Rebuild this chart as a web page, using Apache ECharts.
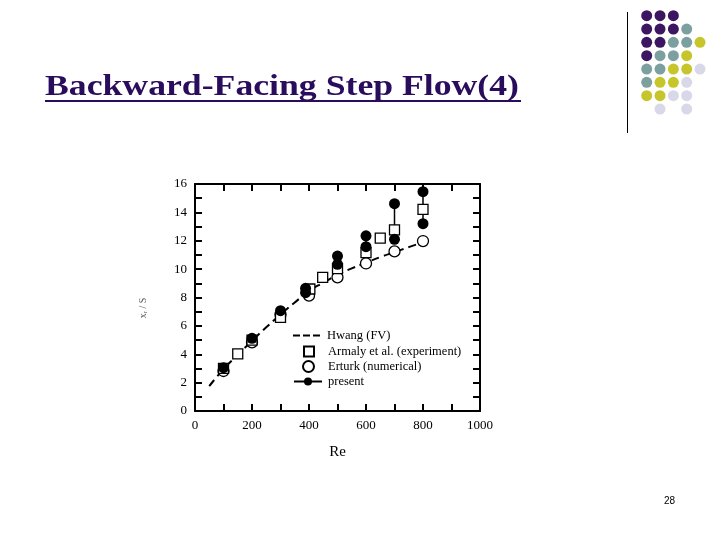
<!DOCTYPE html>
<html><head><meta charset="utf-8">
<script src="https://cdn.jsdelivr.net/npm/echarts@6/dist/echarts.min.js"></script>
<style>html,body{margin:0;padding:0;background:#fff}#c{width:720px;height:540px}</style>
</head><body><div id="c"></div>
<script>
var titleText = 'Backward-Facing Step Flow(4)';
var xTicks = [0, 200, 400, 600, 800, 1000];
var yTicks = [0, 2, 4, 6, 8, 10, 12, 14, 16];
var hwangRe = [50, 100, 150, 200, 250, 300, 350, 400, 450, 500, 550, 600, 650, 700, 750, 800];
var hwangXr = [1.75, 2.95, 3.95, 4.95, 5.9, 6.8, 7.65, 8.45, 9.05, 9.6, 10.05, 10.45, 10.85, 11.2, 11.55, 11.9];
var armalyRe = [100, 150, 200, 300, 403, 448, 500, 600, 650, 700, 800];
var armalyXr = [3.0, 4.02, 5.0, 6.6, 8.6, 9.42, 10.03, 11.16, 12.19, 12.76, 14.21];
var erturkRe = [100, 200, 300, 400, 500, 600, 700, 800];
var erturkXr = [2.82, 4.84, 6.8, 8.13, 9.42, 10.4, 11.25, 11.98];
var presentRe = [100, 200, 300, 388, 500, 600, 700, 800];
var presentHigh = [3.05, 5.12, 7.07, 8.65, 10.92, 12.35, 14.61, 15.46];
var presentLow = [3.05, 5.12, 7.07, 8.34, 10.34, 11.58, 12.1, 13.2];
var legendNames = ['Hwang (FV)', 'Armaly et al. (experiment)', 'Erturk (numerical)', 'present'];
var dotColors = {p:'#3c1661', t:'#7c9fa0', y:'#c6c62c', l:'#d8d8e8'};
var dotRows = ['ppp', 'pppt', 'pptty', 'ptty', 'ttyyl', 'tyyl', 'yyll', ' l l'];

function zip(a, b) { return a.map(function (v, i) { return [v, b[i]]; }); }
var presentPts = [];
var presentSeg = [];
presentRe.forEach(function (r, i) {
  presentPts.push([r, presentHigh[i]]);
  if (presentLow[i] !== presentHigh[i]) presentPts.push([r, presentLow[i]]);
  presentSeg.push([r, presentHigh[i]], [r, presentLow[i]], [r, null]);
});

var serif = '"Liberation Serif", "DejaVu Serif", serif';
var graphics = [
  {type:'text', x:45, y:72, scaleX:1.19, style:{text:titleText, font:'bold 30px ' + serif, fill:'#2a0c5c', verticalAlign:'top'}},
  {type:'rect', shape:{x:45, y:100, width:476, height:2}, style:{fill:'#2a0c5c'}},
  {type:'line', shape:{x1:627.5, y1:12, x2:627.5, y2:133}, style:{stroke:'#000', lineWidth:1}},
  {type:'text', left:664, top:496, style:{text:'28', font:'10px "Liberation Sans", Arial, sans-serif', fill:'#000'}},
  {type:'text', x:143, y:308, rotation:Math.PI/2, style:{text:'xᵣ / S', font:'10px ' + serif, fill:'#555', align:'center', verticalAlign:'middle'}}
];
dotRows.forEach(function (row, r) {
  for (var c = 0; c < row.length; c++) {
    var k = row[c];
    if (k === ' ') continue;
    graphics.push({type:'circle', shape:{cx:646.7 + c * 13.33, cy:15.7 + r * 13.33, r:5.5}, style:{fill:dotColors[k]}});
  }
});

var axisCommon = {
  type:'value',
  axisLine:{show:true, onZero:false, lineStyle:{color:'#000', width:2}},
  axisTick:{show:true, inside:true, length:7, lineStyle:{color:'#000', width:2}},
  minorTick:{show:true, splitNumber:2, length:7, lineStyle:{color:'#000', width:2}},
  splitLine:{show:false}
};
function ax(extra) { return Object.assign({}, JSON.parse(JSON.stringify(axisCommon)), extra); }
var lblFmt = function (v) { return String(v); };

var legendCenters = [336, 352, 367, 382];
var legendText = {fontFamily:serif, fontSize:12.5, color:'#000'};
var legends = [
  {data:[{name:legendNames[0], icon:'path://M0,0h7v2h-7z M10,0h7v2h-7z M20,0h7v2h-7z'}], left:293, itemWidth:27, itemHeight:2, textStyle:Object.assign({padding:[0,0,0,2]}, legendText)},
  {data:[legendNames[1]], left:303, itemWidth:10, itemHeight:10, textStyle:Object.assign({padding:[0,0,0,9]}, legendText)},
  {data:[legendNames[2]], left:302, itemWidth:11, itemHeight:11, textStyle:Object.assign({padding:[0,0,0,9]}, legendText)},
  {data:[legendNames[3]], left:293, itemWidth:28, itemHeight:10, textStyle:Object.assign({padding:[0,0,0,1]}, legendText)}
].map(function (l, i) {
  return Object.assign({orient:'vertical', top:legendCenters[i] - 7, padding:0, selectedMode:false, textStyle:legendText}, l);
});

var chart = echarts.init(document.getElementById('c'));
chart.setOption({
  animation:false,
  backgroundColor:'#fff',
  graphic:graphics,
  grid:{left:195, right:240, top:184, bottom:129, containLabel:false},
  xAxis:[
    ax({position:'bottom', min:xTicks[0], max:xTicks[xTicks.length-1], interval:200,
      name:'Re', nameLocation:'middle', nameGap:34, nameTextStyle:{fontFamily:serif, fontSize:15, color:'#000'},
      axisLabel:{fontFamily:serif, fontSize:13, color:'#000', margin:8, formatter:lblFmt}}),
    ax({position:'top', min:0, max:1000, interval:200, axisLabel:{show:false}})
  ],
  yAxis:[
    ax({position:'left', min:yTicks[0], max:yTicks[yTicks.length-1], interval:2,
      axisLabel:{fontFamily:serif, fontSize:13, color:'#000', margin:8, formatter:lblFmt}}),
    ax({position:'right', min:0, max:16, interval:2, axisLabel:{show:false}})
  ],
  legend:legends,
  series:[
    {name:legendNames[0], type:'line', data:zip(hwangRe, hwangXr), smooth:true, symbol:'none',
      lineStyle:{color:'#000', width:2, type:[8,5]}, itemStyle:{color:'#000'}, z:2},
    {name:legendNames[1], type:'scatter', data:zip(armalyRe, armalyXr), symbol:'rect', symbolSize:10,
      itemStyle:{color:'#fff', borderColor:'#000', borderWidth:1.3, opacity:1}, z:4},
    {name:legendNames[2], type:'scatter', data:zip(erturkRe, erturkXr), symbol:'circle', symbolSize:11,
      itemStyle:{color:'#fff', borderColor:'#000', borderWidth:1.3, opacity:1}, z:3},
    {name:legendNames[3], type:'line', data:presentSeg, symbol:'circle', showSymbol:false, connectNulls:false,
      lineStyle:{color:'#000', width:1.5}, itemStyle:{color:'#000'}, z:3},
    {name:legendNames[3], type:'scatter', data:presentPts, symbol:'circle', symbolSize:11,
      itemStyle:{color:'#000', opacity:1}, z:5}
  ]
});
</script></body></html>
